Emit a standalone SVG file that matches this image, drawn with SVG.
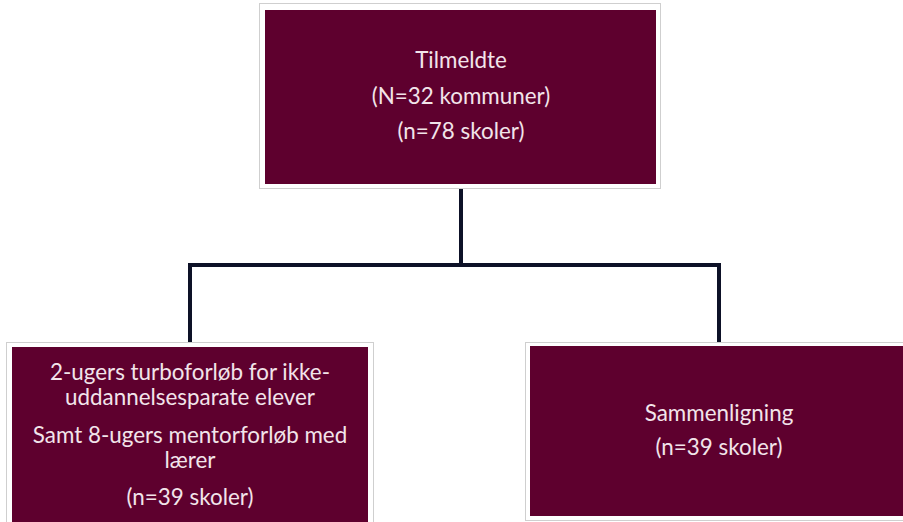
<svg xmlns="http://www.w3.org/2000/svg" width="903" height="522" viewBox="0 0 903 522">
<style>
.frame{fill:#ffffff;stroke:#cfcfcf;stroke-width:1}
.box{fill:#5e002e}
.t{font-family:Lato,"Open Sans","Liberation Sans",sans-serif;font-size:22.4px;fill:#f2e4ea;text-anchor:middle}
.conn{fill:none;stroke:#0d1127;stroke-width:4;stroke-linejoin:miter}
</style>
<rect width="903" height="522" fill="#ffffff"/>
<g id="connectors">
<path class="conn" d="M461,188 V265"/>
<path class="conn" d="M190,343 V265 H719 V343"/>
</g>
<g id="node-tilmeldte">
<rect class="frame" x="259.5" y="3.5" width="401" height="185"/>
<rect class="box" x="265" y="10" width="391" height="174"/>
<text class="t" x="461" y="68">Tilmeldte</text>
<text class="t" x="461" y="104">(N=32 kommuner)</text>
<text class="t" x="461" y="139">(n=78 skoler)</text>
</g>
<g id="node-turbo">
<rect class="frame" x="6.5" y="342.5" width="367" height="185"/>
<rect class="box" x="12" y="347" width="356" height="180"/>
<text class="t" x="190" y="380">2-ugers turboforløb for ikke-</text>
<text class="t" x="190" y="405">uddannelsesparate elever</text>
<text class="t" x="190" y="443">Samt 8-ugers mentorforløb med</text>
<text class="t" x="190" y="468">lærer</text>
<text class="t" x="190" y="505">(n=39 skoler)</text>
</g>
<g id="node-sammenligning">
<rect class="frame" x="525.5" y="342.5" width="385" height="178"/>
<rect class="box" x="530" y="346" width="373" height="170"/>
<text class="t" x="719" y="421">Sammenligning</text>
<text class="t" x="719" y="455">(n=39 skoler)</text>
</g>
</svg>
